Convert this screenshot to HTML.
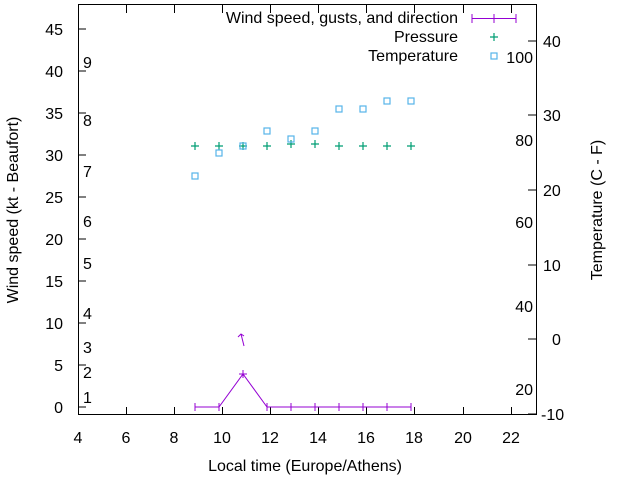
<!DOCTYPE html>
<html><head><style>body{margin:0;background:#fff}svg{display:block}text{font-family:"Liberation Sans",sans-serif;font-size:16px;fill:#000}</style></head><body>
<svg width="640" height="480" xmlns="http://www.w3.org/2000/svg">
<rect x="78.5" y="4.5" width="458" height="410" fill="none" stroke="#000" stroke-width="1"/>
<g stroke="#000" stroke-width="1">
<path d="M78 407h8M78 365h8M78 323h8M78 281h8M78 239h8M78 197h8M78 155h8M78 113h8M78 71h8M78 29h8"/>
<path d="M536 414h-8M536 339h-8M536 265h-8M536 190h-8M536 115h-8M536 41h-8"/>
<path d="M78.5 415v-8M126.5 415v-8M174.5 415v-8M222.5 415v-8M270.5 415v-8M318.5 415v-8M366.5 415v-8M414.5 415v-8M463.5 415v-8M511.5 415v-8"/>
<path d="M78.5 5v8M126.5 5v8M174.5 5v8M222.5 5v8M270.5 5v8M318.5 5v8M366.5 5v8M414.5 5v8M463.5 5v8M511.5 5v8"/>
</g>
<g text-anchor="end">
<text x="63" y="413">0</text><text x="63" y="371">5</text><text x="63" y="329">10</text><text x="63" y="287">15</text><text x="63" y="245">20</text><text x="63" y="203">25</text><text x="63" y="161">30</text><text x="63" y="119">35</text><text x="63" y="77">40</text><text x="63" y="35">45</text>
</g>
<g text-anchor="start">
<text x="541" y="420">-10</text><text x="552" y="345">0</text><text x="543" y="271">10</text><text x="543" y="196">20</text><text x="543" y="121">30</text><text x="543" y="47">40</text>
<text x="83" y="403">1</text><text x="83" y="378">2</text><text x="83" y="353">3</text><text x="83" y="319">4</text><text x="83" y="269">5</text><text x="83" y="227">6</text><text x="83" y="177">7</text><text x="83" y="126">8</text><text x="83" y="68">9</text>
</g>
<g text-anchor="end">
<text x="533" y="395">20</text><text x="533" y="312">40</text><text x="533" y="228">60</text><text x="533" y="146">80</text><text x="533" y="63">100</text>
</g>
<g text-anchor="middle">
<text x="78" y="443">4</text><text x="126" y="443">6</text><text x="174" y="443">8</text><text x="222" y="443">10</text><text x="270" y="443">12</text><text x="318" y="443">14</text><text x="366" y="443">16</text><text x="414" y="443">18</text><text x="463" y="443">20</text><text x="511" y="443">22</text>
<text x="305" y="471">Local time (Europe/Athens)</text>
<text transform="translate(18,210) rotate(-90)">Wind speed (kt - Beaufort)</text>
<text transform="translate(602,210) rotate(-90)">Temperature (C - F)</text>
</g>
<g text-anchor="end">
<text x="458" y="23">Wind speed, gusts, and direction</text>
<text x="458" y="42">Pressure</text>
<text x="458" y="61">Temperature</text>
</g>
<g stroke="#9400d3" stroke-width="1" fill="none">
<path d="M472 18.5h44M472 14v9M494 14v9M516 14v9"/>
<path d="M195 407H219L243 374L267 407H411"/>
<path d="M195 403v8M219 403v8M243 370v8M239 374h8M267 403v8M291 403v8M315 403v8M339 403v8M363 403v8M387 403v8M411 403v8"/>
<path d="M244 346L241 334M238 337L241 334L244 336"/>
</g>
<g stroke="#009e73" stroke-width="1.2" fill="none">
<path d="M494 33v8M490 37h8"/>
<path d="M195 142v8M191 146h8M219 142v8M215 146h8M243 142v8M239 146h8M267 142v8M263 146h8M291 140v8M287 144h8M315 140v8M311 144h8M339 142v8M335 146h8M363 142v8M359 146h8M387 142v8M383 146h8M411 142v8M407 146h8"/>
</g>
<g stroke="#56b4e9" stroke-width="1.2" fill="none">
<rect x="491" y="53" width="6" height="6"/>
<rect x="192" y="173" width="6" height="6"/><rect x="216" y="150" width="6" height="6"/><rect x="240" y="143" width="6" height="6"/><rect x="264" y="128" width="6" height="6"/><rect x="288" y="136" width="6" height="6"/><rect x="312" y="128" width="6" height="6"/><rect x="336" y="106" width="6" height="6"/><rect x="360" y="106" width="6" height="6"/><rect x="384" y="98" width="6" height="6"/><rect x="408" y="98" width="6" height="6"/>
</g>
</svg>
</body></html>
